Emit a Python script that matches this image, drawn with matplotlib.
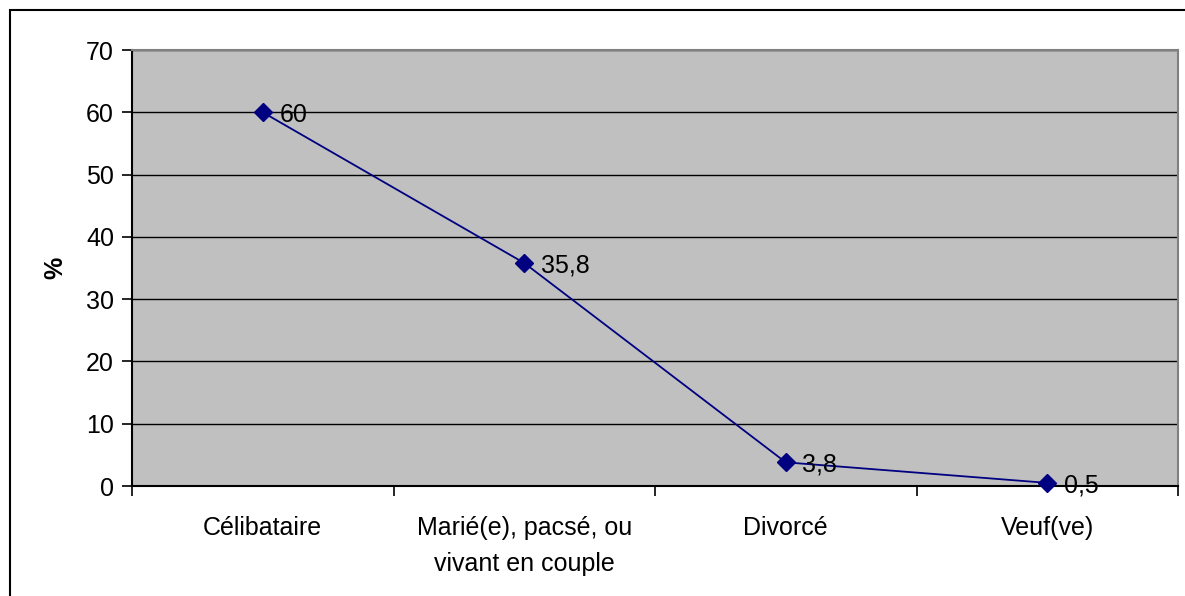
import numpy as np
import matplotlib
matplotlib.use("Agg")
import matplotlib.pyplot as plt
from matplotlib.patches import Rectangle

# Data
categories = ["Célibataire", "Marié(e), pacsé, ou\nvivant en couple", "Divorcé", "Veuf(ve)"]
values = [60, 35.8, 3.8, 0.5]
value_labels = ["60", "35,8", "3,8", "0,5"]
y_ticks = [0, 10, 20, 30, 40, 50, 60, 70]

plt.rcParams['font.family'] = ['Liberation Sans', 'DejaVu Sans']
FS = 18

fig = plt.figure(figsize=(11.85, 5.96), dpi=100)
ax = fig.add_axes([132 / 1185, 1 - 486 / 596, 1046 / 1185, 436 / 596])

# Outer chart border (cut off at right and bottom like the original)
fig.patches.append(Rectangle((10 / 1185, -0.1), 1.2, 1.1 - 10 / 596,
                             transform=fig.transFigure, fill=False,
                             edgecolor='black', linewidth=1.5, clip_on=False))

ax.set_facecolor('#C0C0C0')
x = np.arange(len(categories))
ax.plot(x, values, color='#000080', linewidth=1.3, marker='D', markersize=9.5,
        zorder=3, clip_on=False)
for xi, v, lab in zip(x, values, value_labels):
    ax.annotate(lab, (xi, v), xytext=(12, 0), textcoords='offset points',
                va='center_baseline', ha='left', fontsize=FS, color='black',
                zorder=4, annotation_clip=False)

ax.set_xlim(-0.5, len(categories) - 0.5)
ax.set_ylim(0, 70)
ax.set_yticks(y_ticks)
ax.set_yticklabels([str(t) for t in y_ticks], fontsize=FS)
ax.yaxis.grid(True, color='black', linewidth=1)
ax.set_axisbelow(True)

ax.set_xticks(np.arange(-0.5, len(categories), 1.0))
ax.set_xticklabels([])
ax.set_xticks(x, minor=True)
ax.set_xticklabels(categories, minor=True, fontsize=FS, linespacing=1.65, va='top')
ax.tick_params(axis='x', which='minor', length=0, pad=21.5)
ax.tick_params(axis='x', which='major', length=7, width=1.2, direction='out')
ax.tick_params(axis='y', length=7, width=1.2, direction='out', pad=6)

for side in ['left', 'bottom']:
    ax.spines[side].set_color('black')
    ax.spines[side].set_linewidth(1.5)
for side in ['top', 'right']:
    ax.spines[side].set_color('#808080')
    ax.spines[side].set_linewidth(1.5)

ax.set_ylabel('%', fontsize=FS, fontweight='bold')
ax.yaxis.set_label_coords(-0.062, 0.5)

fig.savefig('out.png', dpi=100)
